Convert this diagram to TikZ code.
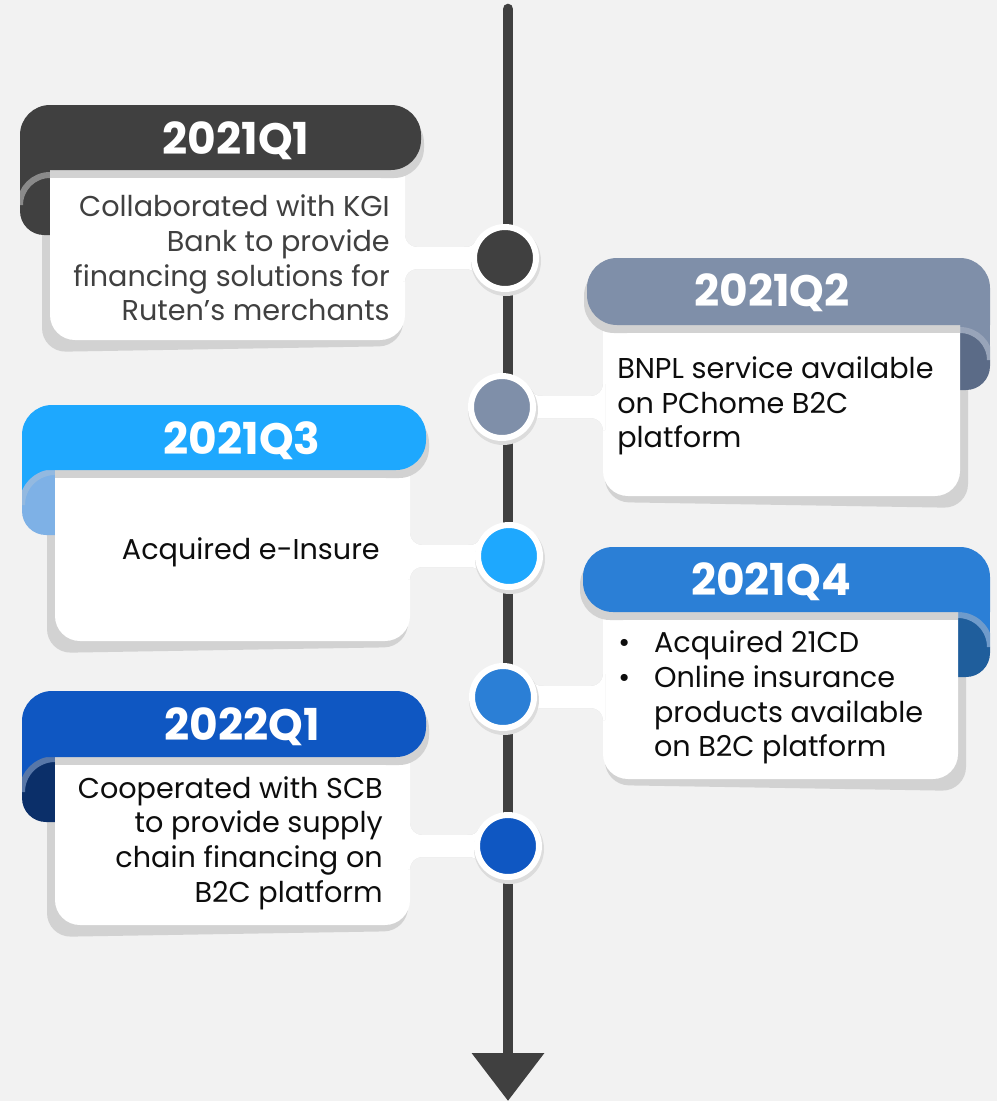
\documentclass[tikz,border=0pt]{standalone}
\usepackage{fontspec}
\setmainfont{Poppins}
\usetikzlibrary{calc,arrows.meta}
\pgfdeclarelayer{top}
\pgfsetlayers{main,top}

\definecolor{bgc}{HTML}{F2F2F2}
\definecolor{linec}{HTML}{404040}
\definecolor{shadowc}{HTML}{D2D2D2}
\definecolor{dotshadow}{HTML}{DCDCDC}
\definecolor{greytext}{HTML}{404040}
\definecolor{blacktext}{HTML}{0D0D0D}
% 2021Q1
\definecolor{ahead}{HTML}{404040}\definecolor{afold}{HTML}{404040}\definecolor{aband}{HTML}{8A8A8A}
% 2021Q2
\definecolor{bhead}{HTML}{7F8FA9}\definecolor{bfold}{HTML}{5B6B87}\definecolor{bband}{HTML}{98A4B9}
% 2021Q3
\definecolor{chead}{HTML}{1EA8FE}\definecolor{cfold}{HTML}{7EB1E6}\definecolor{cband}{HTML}{93B9E0}
% 2021Q4
\definecolor{dhead}{HTML}{2B7FD6}\definecolor{dfold}{HTML}{1F5E9C}\definecolor{dband}{HTML}{6F9BCB}
% 2022Q1
\definecolor{ehead}{HTML}{0F57C2}\definecolor{efold}{HTML}{0B2F69}\definecolor{eband}{HTML}{5877A8}

\tikzset{
  x=0.75pt, y=-0.75pt,
  bodybox/.style={fill=white, rounded corners=18.75pt, inner sep=0pt, outer sep=0pt, anchor=north west},
  dot/.style={circle, minimum size=46.5pt, inner sep=0pt, draw=white, line width=4.5pt},
  headtxt/.style={text=white, font=\fontsize{33}{38}\selectfont\bfseries, inner sep=0pt},
  bodytxt/.style={font=\fontsize{21.5}{26}\selectfont, inner sep=0pt},
}

% card with the ribbon curling down on the left
% #1 header left, #2 header right, #3 header top, #4 header bottom,
% #5 body left, #6 body right, #7 body bottom, #8 colour prefix, #9 body name
\newcommand\leftcard[9]{%
  \fill[shadowc, rounded corners=18pt] (#5-8,#4) -- (#5-8,#7+12) -- (#6-2,#7+6) -- (#6-2,#4) -- cycle;
  \fill[#8head] (#1,#4-10) rectangle (#5+10,#4+40);
  \fill[#8fold] (#1,#4+35) arc[start angle=180,end angle=270,radius={#5-#1}]
     -- (#5+10,#4+35-#5+#1) -- (#5+10,#4+65) -- (#1+24,#4+65)
     arc[start angle=90,end angle=180,radius=24] -- cycle;
  \begin{scope}
    \clip (#1,#4) rectangle (#5+10,#4+65);
    \draw[#8band, line width=4.5pt] (#1,#4+35) arc[start angle=180,end angle=270,radius={#5-#1}];
  \end{scope}
  \node[bodybox, minimum width={(#6-#5)*0.75pt}, minimum height={(#7-#4+30)*0.75pt}] (#9) at (#5,#4-30) {};
  \fill[shadowc] (#5,#4-10) rectangle (#2-30,#4+8);
  \fill[shadowc, rounded corners=22.5pt] (#2-70,#3+8) rectangle (#2+3,#4+8);
  \fill[#8head, rounded corners=22.5pt] (#1,#4) -- (#1,#3) -- (#2,#3) -- (#2,#4) -- (#1,#4);
}

% card with the ribbon curling down on the right
\newcommand\rightcard[9]{%
  \fill[shadowc, rounded corners=18pt] (#5+2,#4) -- (#5+2,#7+6) -- (#6+8,#7+12) -- (#6+8,#4) -- cycle;
  \fill[#8head] (#6-10,#4-10) rectangle (#2,#4+40);
  \fill[#8fold] (#2,#4+35) arc[start angle=0,end angle=-90,radius={#2-#6}]
     -- (#6-10,#4+35-#2+#6) -- (#6-10,#4+65) -- (#2-24,#4+65)
     arc[start angle=90,end angle=0,radius=24] -- cycle;
  \begin{scope}
    \clip (#6-10,#4) rectangle (#2,#4+65);
    \draw[#8band, line width=4.5pt] (#2,#4+35) arc[start angle=0,end angle=-90,radius={#2-#6}];
  \end{scope}
  \node[bodybox, minimum width={(#6-#5)*0.75pt}, minimum height={(#7-#4+30)*0.75pt}] (#9) at (#5,#4-30) {};
  \fill[shadowc] (#1+30,#4-10) rectangle (#6,#4+8);
  \fill[shadowc, rounded corners=22.5pt] (#1-3,#3+8) rectangle (#1+70,#4+8);
  \fill[#8head, rounded corners=22.5pt] (#2,#4) -- (#2,#3) -- (#1,#3) -- (#1,#4) -- (#2,#4);
}

% white neck joining a card body (left of the line) to its dot
\newcommand\neckleft[3]{%
  \fill[#3]
    ($(#1.east |- #2.center)+(-2,-23)$) -- ($(#1.east |- #2.center)+(0,-23)$)
    arc[start angle=180,end angle=90,radius=12]
    -- ($(#2.center)+(-42,-11)$) .. controls ($(#2.center)+(-33,-11)$) .. ($(#2.center)+(-26,-22)$)
    -- (#2.center)
    -- ($(#2.center)+(-26,22)$) .. controls ($(#2.center)+(-33,11)$) .. ($(#2.center)+(-42,11)$)
    -- ($(#1.east |- #2.center)+(12,11)$)
    arc[start angle=270,end angle=180,radius=12]
    -- ($(#1.east |- #2.center)+(-2,23)$) -- cycle;
}
% white neck joining a card body (right of the line) to its dot
\newcommand\neckright[3]{%
  \fill[#3]
    ($(#1.west |- #2.center)+(2,-23)$) -- ($(#1.west |- #2.center)+(0,-23)$)
    arc[start angle=0,end angle=90,radius=12]
    -- ($(#2.center)+(42,-11)$) .. controls ($(#2.center)+(33,-11)$) .. ($(#2.center)+(26,-22)$)
    -- (#2.center)
    -- ($(#2.center)+(26,22)$) .. controls ($(#2.center)+(33,11)$) .. ($(#2.center)+(42,11)$)
    -- ($(#1.west |- #2.center)+(-12,11)$)
    arc[start angle=270,end angle=360,radius=12]
    -- ($(#1.west |- #2.center)+(2,23)$) -- cycle;
}

\begin{document}
\begin{tikzpicture}
\useasboundingbox (0,0) rectangle (997,1101);
\fill[bgc] (0,0) rectangle (997,1101);

% time axis
\coordinate (axtop) at (508,9);
\coordinate (axend) at (508,1101);
\draw[linec, line width=8pt, line cap=round, -{Triangle[width=52.5pt,length=36pt]}] (axtop) -- (axend);

% milestone dots
\begin{pgfonlayer}{top}
  \foreach \n/\px/\py/\col in {d1/505/258/ahead, d2/502/407/bhead, d3/509/556/chead, d4/503/697/dhead, d5/508/846/ehead}{
    \fill[dotshadow] (\px+1,\py+3) circle[radius=35];
    \node[dot, fill=\col] (\n) at (\px,\py) {};
  }
\end{pgfonlayer}

% cards
\leftcard{20}{421}{105}{170}{50}{405}{340}{a}{b1}
\rightcard{587}{990}{258}{325}{603}{960}{496}{b}{b2}
\leftcard{22}{426}{405}{470}{55}{410}{641}{c}{b3}
\rightcard{583}{990}{547}{612}{603}{958}{779}{d}{b4}
\leftcard{22}{426}{691}{757}{55}{410}{925}{e}{b5}

% necks from cards to dots
\begin{scope}[yshift=-2.25pt]
  \neckleft{b1}{d1}{shadowc}
  \neckright{b2}{d2}{shadowc}
  \neckleft{b3}{d3}{shadowc}
  \neckright{b4}{d4}{shadowc}
  \neckleft{b5}{d5}{shadowc}
\end{scope}
\neckleft{b1}{d1}{white}
\neckright{b2}{d2}{white}
\neckleft{b3}{d3}{white}
\neckright{b4}{d4}{white}
\neckleft{b5}{d5}{white}

% headings
\node[headtxt] (h1) at (236,141) {2021Q1};
\node[headtxt] (h2) at (772,293) {2021Q2};
\node[headtxt] (h3) at (242,441) {2021Q3};
\node[headtxt] (h4) at (771,582) {2021Q4};
\node[headtxt] (h5) at (242,727) {2022Q1};

% descriptions
\node[bodytxt, text=greytext, anchor=east, align=right] (t1) at (390,258)
  {Collaborated with KGI\\Bank to provide\\financing solutions for\\Ruten’s merchants};
\node[bodytxt, text=blacktext, anchor=west, align=left] (t2) at (617,406)
  {BNPL service available\\on PChome B2C\\platform};
\node[bodytxt, text=blacktext, anchor=east, align=right] (t3) at (380,552)
  {Acquired e-Insure};
\node[bodytxt, text=blacktext, anchor=west, align=left] (t4) at (618,698)
  {\begin{tabular}{@{}l@{\hspace{18pt}}l@{}}
   \textbullet & Acquired 21CD\\
   \textbullet & Online insurance\\
               & products available\\
               & on B2C platform
   \end{tabular}};
\node[bodytxt, text=blacktext, anchor=east, align=right] (t5) at (383,843)
  {Cooperated with SCB\\to provide supply\\chain financing on\\B2C platform};
\end{tikzpicture}
\end{document}
